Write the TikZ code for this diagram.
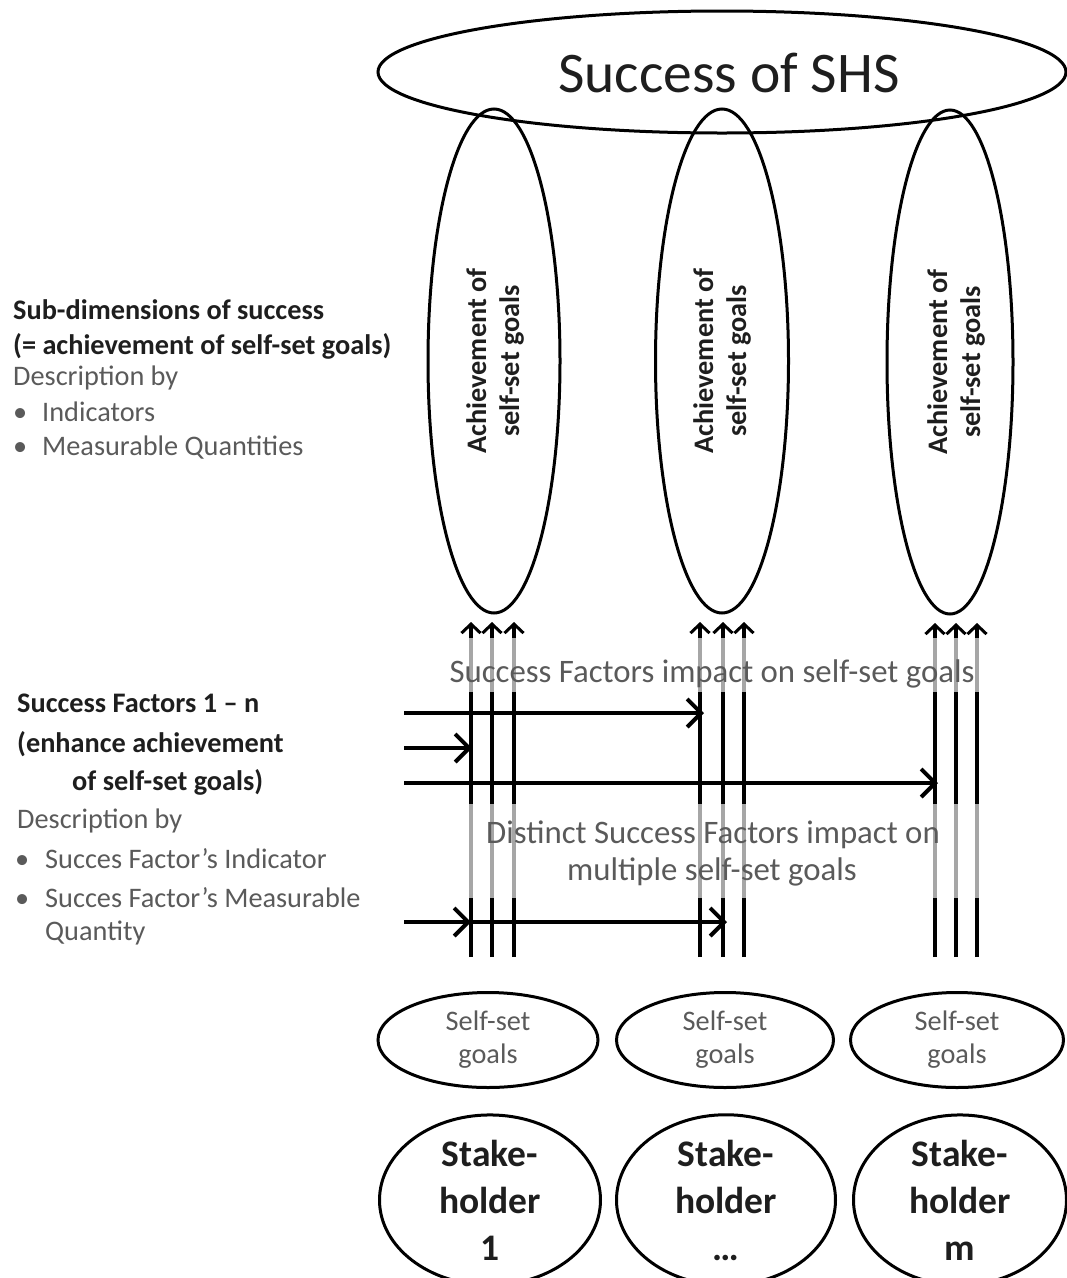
\documentclass[tikz,border=0pt]{standalone}
\usepackage{fontspec}
\setmainfont{Carlito}
\usetikzlibrary{shapes.geometric,arrows.meta,calc}
\definecolor{descgray}{HTML}{5A5A5A}
\definecolor{headblack}{HTML}{1E1E1E}
\tikzset{
  ell/.style={ellipse, draw, line width=3pt, inner sep=0pt, outer sep=0pt},
  vline/.style={line width=3.2pt, shorten >=9pt, -{Straight Barb[length=9pt,width=19pt,line width=3pt]}},
  harrow/.style={line width=4.2pt, -{Straight Barb[length=14pt,width=28pt,line width=4pt]}},
  headtxt/.style={anchor=base west, inner sep=0pt, text=headblack, font=\fontsize{28.3}{32}\selectfont\bfseries},
  desctxt/.style={anchor=base west, inner sep=0pt, text=descgray, font=\fontsize{28.3}{32}\selectfont},
  midtxt/.style={anchor=base, inner sep=0pt, text=descgray, font=\fontsize{32.8}{36}\selectfont},
  achtxt/.style={rotate=90, align=center, inner sep=0pt, text=headblack, font=\fontsize{28.3}{33}\selectfont\bfseries},
  goaltxt/.style={align=center, text=descgray, font=\fontsize{28.3}{33}\selectfont},
  stktxt/.style={align=center, text=headblack, font=\fontsize{37.5}{47}\selectfont\bfseries},
  veil/.style={draw=none, fill=white, fill opacity=0.65, inner sep=0pt},
}
\begin{document}
\begin{tikzpicture}[x=1pt,y=-1pt]
\useasboundingbox (0,0) rectangle (1067,1278);
\clip (0,0) rectangle (1067,1278);

% top ellipse
\node[ell, minimum width=688pt, minimum height=122pt] (top) at (722,72) {};
\node[anchor=base, inner sep=0pt, text=headblack, font=\fontsize{57.5}{60}\selectfont] (toptxt) at (729,92) {Success of SHS};

% vertical ellipses
\node[ell, minimum width=132pt, minimum height=504pt] (a1) at (494,361) {};
\node[ell, minimum width=133pt, minimum height=504pt] (a2) at (722,361) {};
\node[ell, minimum width=126pt, minimum height=504pt] (a3) at (950,362) {};
\node[achtxt] (a1t) at (495,361) {Achievement of\\self-set goals};
\node[achtxt] (a2t) at (722,361) {Achievement of\\self-set goals};
\node[achtxt] (a3t) at (956,362) {Achievement of\\self-set goals};

% self-set goals
\node[ell, goaltxt, minimum width=220pt, minimum height=95pt] (g1) at (488,1040) {Self-set\\goals};
\node[ell, goaltxt, minimum width=217pt, minimum height=95pt] (g2) at (725,1040) {Self-set\\goals};
\node[ell, goaltxt, minimum width=213pt, minimum height=95pt] (g3) at (957,1040) {Self-set\\goals};

% stakeholders
\node[ell, stktxt, minimum width=221pt, minimum height=166pt] (s1) at (490,1200) {Stake-\\holder\\1};
\node[ell, stktxt, minimum width=219pt, minimum height=166pt] (s2) at (726,1200) {Stake-\\holder\\\dots};
\node[ell, stktxt, minimum width=213pt, minimum height=166pt] (s3) at (960,1200) {Stake-\\holder\\m};

% vertical arrow lines
\coordinate (c11) at (471,957); \coordinate (c12) at (492,957); \coordinate (c13) at (514,957);
\coordinate (c21) at (700,957); \coordinate (c22) at (723,957); \coordinate (c23) at (744,957);
\coordinate (c31) at (935,957); \coordinate (c32) at (956,957); \coordinate (c33) at (977,957);
\foreach \c/\e in {c11/a1,c12/a1,c13/a1,c21/a2,c22/a2,c23/a2,c31/a3,c32/a3,c33/a3}
  \draw[vline] (\c) -- (\c |- \e.south);

% veils with labels
\node[veil, minimum width=580pt, minimum height=54pt] (box1) at (710,665) {};
\node[veil, minimum width=580pt, minimum height=94pt] (box2) at (710,851) {};
\node[midtxt] (box1t) at (712,682) {Success Factors impact on self-set goals};
\node[midtxt] (box2t) at (713,843) {Distinct Success Factors impact on};
\node[midtxt] (box2u) at (712,880) {multiple self-set goals};

% horizontal arrows
\coordinate (h1) at (404,713);
\coordinate (h2) at (404,748);
\coordinate (h3) at (404,783);
\coordinate (h4) at (404,922);
\draw[harrow] (h1) -- ($(c21 |- h1)+(4,0)$);
\draw[harrow] (h2) -- ($(c11 |- h2)+(1,0)$);
\draw[harrow] (h3) -- ($(c31 |- h3)+(3,0)$);
\draw[harrow] (h4) -- (c11 |- h4);
\draw[harrow] (c11 |- h4) -- ($(c22 |- h4)+(4,0)$);

% left text block 1
\node[headtxt] (l1) at (13,319) {Sub-dimensions of success};
\node[headtxt] (l2) at (13,354) {(= achievement of self-set goals)};
\node[desctxt] (l3) at (13,385) {Description by};
\node[desctxt] (l4b) at (13,421) {•};
\node[desctxt] (l4) at (42,421) {Indicators};
\node[desctxt] (l5b) at (13,455) {•};
\node[desctxt] (l5) at (42,455) {Measurable Quantities};

% left text block 2
\node[headtxt] (m1) at (17,712) {Success Factors 1 – n};
\node[headtxt] (m2) at (17,752) {(enhance achievement};
\node[headtxt] (m3) at (72,790) {of self-set goals)};
\node[desctxt] (m4) at (17,828) {Description by};
\node[desctxt] (m5b) at (15,868) {•};
\node[desctxt] (m5) at (45,868) {Succes Factor’s Indicator};
\node[desctxt] (m6b) at (15,907) {•};
\node[desctxt] (m6) at (45,907) {Succes Factor’s Measurable};
\node[desctxt] (m7) at (45,940) {Quantity};
\end{tikzpicture}
\end{document}
